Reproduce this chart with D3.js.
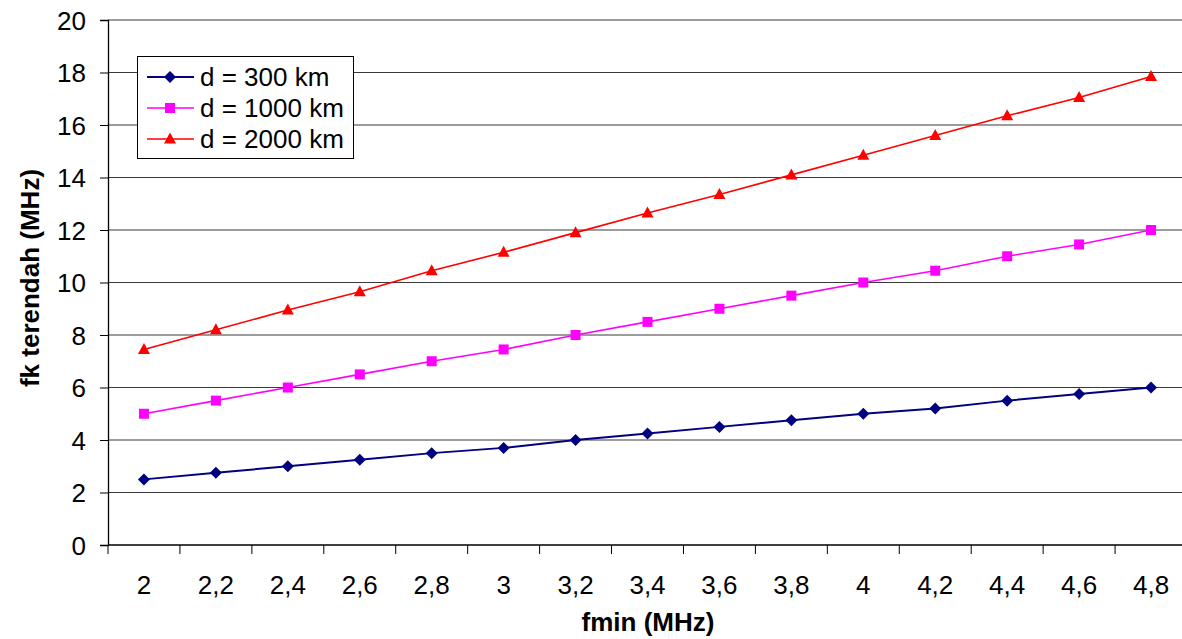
<!DOCTYPE html>
<html>
<head>
    <title>fk terendah vs fmin</title>
    <script src="https://d3js.org/d3.v7.min.js"></script>
    <style>
        body { margin: 0; background: #fff; }
        text { font-family: Arial, "Liberation Sans", sans-serif; }
    </style>
</head>
<body>
    <script>
        // Data
        const fmin = ["2", "2,2", "2,4", "2,6", "2,8", "3", "3,2", "3,4", "3,6", "3,8", "4", "4,2", "4,4", "4,6", "4,8"];
        const d300  = [2.5, 2.75, 3.0, 3.25, 3.5, 3.7, 4.0, 4.25, 4.5, 4.75, 5.0, 5.2, 5.5, 5.75, 6.0];
        const d1000 = [5.0, 5.5, 6.0, 6.5, 7.0, 7.45, 8.0, 8.5, 9.0, 9.5, 10.0, 10.45, 11.0, 11.45, 12.0];
        const d2000 = [7.45, 8.2, 8.95, 9.65, 10.45, 11.15, 11.9, 12.65, 13.35, 14.1, 14.85, 15.6, 16.35, 17.05, 17.85];
        const yTicks = [0, 2, 4, 6, 8, 10, 12, 14, 16, 18, 20];
        const seriesNames = ["d = 300 km", "d = 1000 km", "d = 2000 km"];

        const series = [
            {name: seriesNames[0], values: d300,  color: "#000080", marker: "diamond",  width: 2},
            {name: seriesNames[1], values: d1000, color: "#FF00FF", marker: "square",   width: 1.6},
            {name: seriesNames[2], values: d2000, color: "#FF0000", marker: "triangle", width: 1.6}
        ];

        const fontSize = "26px";

        // plot area (right side runs slightly past the window, as in the original)
        const margin = {top: 20, left: 108},
            W = 1182, H = 639,
            plotRight = 1187,
            plotBottom = 545;

        const svg = d3.select("body")
          .append("svg")
            .attr("width", W)
            .attr("height", H);

        const x = d3.scaleBand()
          .domain(fmin)
          .range([margin.left, plotRight]);

        const y = d3.scaleLinear()
          .domain([0, 20])
          .range([plotBottom, margin.top]);

        // gridlines
        svg.append("g")
          .selectAll("line")
          .data(yTicks.slice(1))
          .enter()
          .append("line")
            .attr("x1", margin.left)
            .attr("x2", plotRight)
            .attr("y1", d => y(d))
            .attr("y2", d => y(d))
            .attr("stroke", "#3a3a3a")
            .attr("stroke-width", 1.1);

        // Y axis
        const yAxis = svg.append("g")
          .attr("transform", `translate(${margin.left},0)`)
          .call(d3.axisLeft(y).tickValues(yTicks).tickSize(8).tickPadding(14));
        yAxis.select(".domain").attr("stroke", "#000").attr("stroke-width", 1.3);
        yAxis.selectAll(".tick line").attr("stroke", "#000");
        yAxis.selectAll("text")
          .attr("fill", "#000")
          .attr("dy", "0.36em")
          .style("font-size", fontSize)
          .style("font-family", "Arial, 'Liberation Sans', sans-serif");

        // X axis: ticks between categories
        const xAxis = svg.append("g")
          .attr("transform", `translate(0,${plotBottom})`);
        xAxis.append("line")
          .attr("x1", margin.left).attr("x2", plotRight)
          .attr("y1", 0).attr("y2", 0)
          .attr("stroke", "#000").attr("stroke-width", 1.3);
        xAxis.selectAll("line.tk")
          .data(fmin)
          .enter()
          .append("line")
            .attr("class", "tk")
            .attr("x1", d => x(d)).attr("x2", d => x(d))
            .attr("y1", 0).attr("y2", 9)
            .attr("stroke", "#000");
        xAxis.selectAll("text")
          .data(fmin)
          .enter()
          .append("text")
            .attr("x", d => x(d) + x.bandwidth() / 2)
            .attr("y", 49)
            .attr("text-anchor", "middle")
            .style("font-size", fontSize)
            .text(d => d);

        // axis titles
        svg.append("text")
          .attr("x", 648)
          .attr("y", 631)
          .attr("text-anchor", "middle")
          .style("font-size", fontSize)
          .style("font-weight", "bold")
          .text("fmin (MHz)");

        svg.append("text")
          .attr("transform", "translate(39,278) rotate(-90)")
          .attr("text-anchor", "middle")
          .style("font-size", fontSize)
          .style("font-weight", "bold")
          .text("fk terendah (MHz)");

        // marker shapes
        function markerPath(type) {
            if (type === "diamond") return "M0,-6L6,0L0,6L-6,0Z";
            if (type === "square") return "M-5,-5H5V5H-5Z";
            return "M0,-6.5L6,4.5H-6Z";
        }

        const cx = d => x(d) + x.bandwidth() / 2;

        // lines and markers
        series.forEach(function(s) {
            svg.append("path")
              .datum(s.values)
              .attr("fill", "none")
              .attr("stroke", s.color)
              .attr("stroke-width", s.width)
              .attr("d", d3.line()
                .x((d, i) => cx(fmin[i]))
                .y(d => y(d))
              );
            svg.selectAll(null)
              .data(s.values)
              .enter()
              .append("path")
                .attr("d", markerPath(s.marker))
                .attr("transform", (d, i) => `translate(${cx(fmin[i])},${y(d)})`)
                .attr("fill", s.color);
        });

        // legend
        const legend = svg.append("g");
        legend.append("rect")
          .attr("x", 137.5).attr("y", 56.5)
          .attr("width", 216).attr("height", 102)
          .attr("fill", "#fff")
          .attr("stroke", "#000");

        const legendRows = legend.selectAll("g.row")
          .data(series)
          .enter()
          .append("g")
            .attr("transform", (d, i) => `translate(0,${77 + i * 31})`);
        legendRows.append("line")
          .attr("x1", 147).attr("x2", 194)
          .attr("stroke", d => d.color)
          .attr("stroke-width", d => d.width);
        legendRows.append("path")
          .attr("d", d => markerPath(d.marker))
          .attr("transform", "translate(170,0)")
          .attr("fill", d => d.color);
        legendRows.append("text")
          .attr("x", 200)
          .attr("y", 0)
          .attr("dy", "0.35em")
          .style("font-size", fontSize)
          .text(d => d.name);
    </script>
</body>
</html>
